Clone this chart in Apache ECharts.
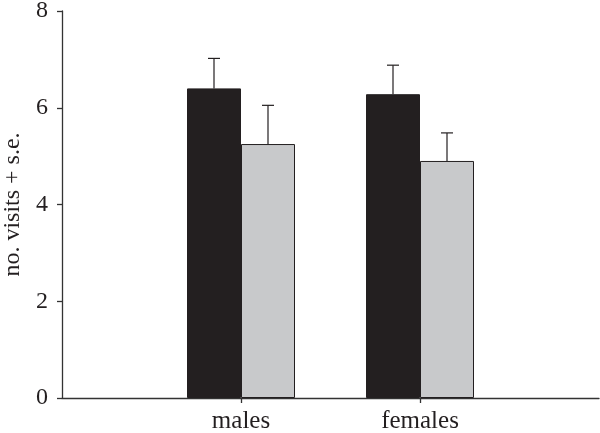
<!DOCTYPE html>
<html>
<head>
<meta charset="utf-8">
<script src="https://cdn.jsdelivr.net/npm/echarts@6/dist/echarts.min.js"></script>
<style>
  html, body { margin: 0; padding: 0; background: #fff; }
  #chart { width: 600px; height: 433px; }
</style>
</head>
<body>
<div id="chart"></div>
<script>
// categories (empty ends so the groups sit on the inner ticks)
var categories = ['', 'males', 'females', ''];
// mean visits
var blackValues = [null, 6.40, 6.28, null];
var greyValues = [null, 5.25, 4.90, null];
// mean + s.e.
var blackUpper = [null, 7.02, 6.88, null];
var greyUpper = [null, 6.05, 5.48, null];
var yTicks = [0, 2, 4, 6, 8];

var BAR_W = 54;
var CAP_W = 12;

function errorData(vals, upper) {
    var out = [];
    for (var i = 0; i < vals.length; i++) {
        if (vals[i] != null) out.push([i, vals[i], upper[i]]);
    }
    return out;
}

// draws the upper s.e. whisker with a cap, offset to sit on the bar's centre
function errorRenderer(offset) {
    return function(params, api) {
        var base = api.coord([api.value(0), api.value(1)]);
        var top = api.coord([api.value(0), api.value(2)]);
        var x = base[0] + offset;
        var style = { stroke: '#231f20', lineWidth: 1.2 };
        return {
            type: 'group',
            children: [
                { type: 'line', shape: { x1: x, y1: base[1], x2: x, y2: top[1] }, style: style },
                { type: 'line', shape: { x1: x - CAP_W / 2, y1: top[1], x2: x + CAP_W / 2, y2: top[1] }, style: style }
            ]
        };
    };
}

var chart = echarts.init(document.getElementById('chart'));
var font = 'Liberation Serif';

chart.setOption({
    animation: false,
    grid: { left: 62, right: 1, top: 11, bottom: 35, containLabel: false, outerBoundsMode: 'none' },
    xAxis: {
        type: 'category',
        data: categories,
        boundaryGap: false,
        axisLine: { lineStyle: { color: '#333', width: 1.3 } },
        axisTick: {
            length: 5,
            interval: function(i) { return i === 1 || i === 2; },
            lineStyle: { color: '#333', width: 1.3 }
        },
        axisLabel: { color: '#231f20', fontFamily: font, fontSize: 25, margin: 11, interval: 0 },
        splitLine: { show: false }
    },
    yAxis: {
        type: 'value',
        min: yTicks[0],
        max: yTicks[yTicks.length - 1],
        interval: 2,
        name: 'no. visits + s.e.',
        nameLocation: 'middle',
        nameGap: 34,
        nameTextStyle: { color: '#231f20', fontFamily: font, fontSize: 24 },
        axisLine: { show: true, lineStyle: { color: '#333', width: 1.3 } },
        axisTick: { show: true, length: 5, lineStyle: { color: '#333', width: 1.3 } },
        axisLabel: { color: '#231f20', fontFamily: font, fontSize: 24, margin: 14 },
        splitLine: { show: false }
    },
    series: [
        {
            type: 'bar',
            data: blackValues,
            barWidth: BAR_W,
            barGap: '0%',
            itemStyle: { color: '#231f20', borderColor: '#231f20', borderWidth: 1 }
        },
        {
            type: 'bar',
            data: greyValues,
            barWidth: BAR_W,
            barGap: '0%',
            itemStyle: { color: '#c8c9cb', borderColor: '#231f20', borderWidth: 1 }
        },
        {
            type: 'custom',
            data: errorData(blackValues, blackUpper),
            renderItem: errorRenderer(-BAR_W / 2),
            z: 3
        },
        {
            type: 'custom',
            data: errorData(greyValues, greyUpper),
            renderItem: errorRenderer(BAR_W / 2),
            z: 3
        }
    ]
});
</script>
</body>
</html>
